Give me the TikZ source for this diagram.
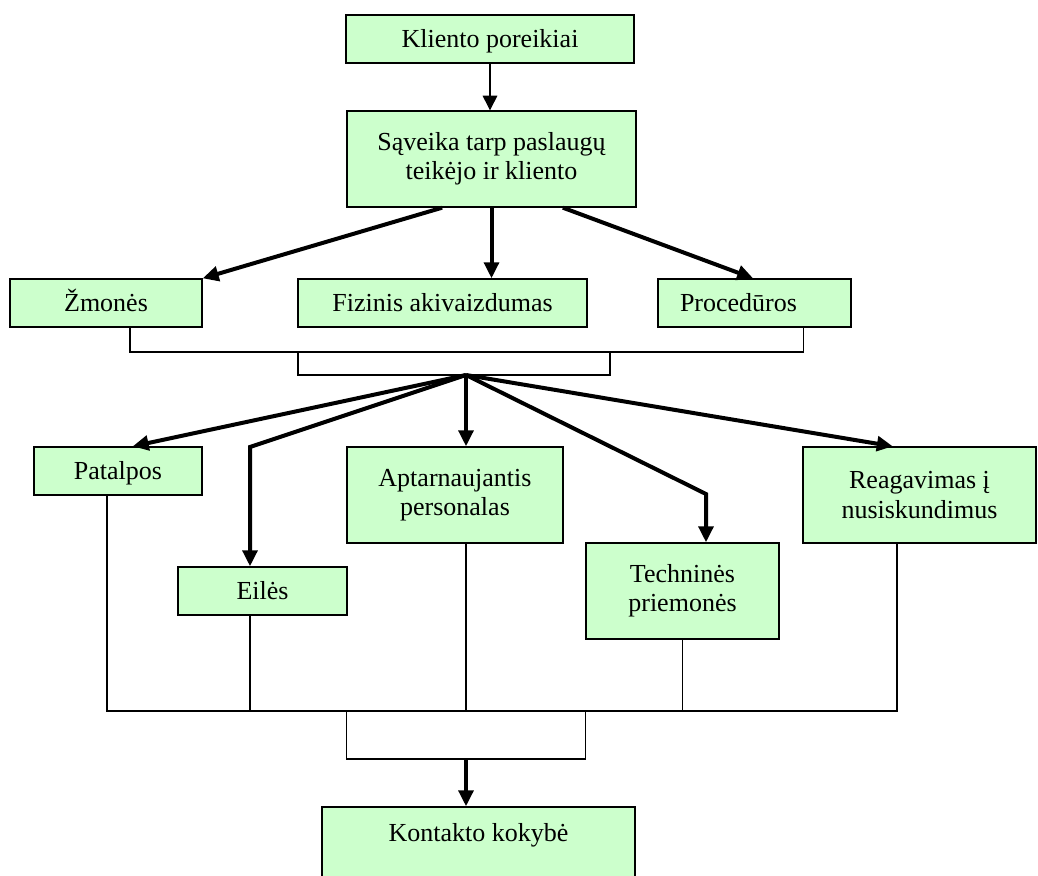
\documentclass[tikz,border=0pt]{standalone}
\usepackage{fontspec}
\setmainfont{Liberation Serif}
\usetikzlibrary{arrows.meta}
\definecolor{boxgreen}{HTML}{CCFFCC}

\begin{document}
\begin{tikzpicture}[x=0.75pt,y=-0.75pt,
        font=\fontsize{19.5pt}{22pt}\selectfont,
        box/.style={draw,line width=1pt,fill=boxgreen,inner sep=0pt,align=center},
        onebox/.style={box,minimum height=36pt,text height=13pt,text depth=1pt},
        link/.style={line width=0.8pt},
        arr/.style={line width=3pt,-{Triangle[length=12pt,width=11pt]}},
        thinarr/.style={line width=0.8pt,-{Triangle[length=11pt,width=11pt]}}]
        \useasboundingbox (0,0) rectangle (1038,875);
        \clip (0,0) rectangle (1038,875);
        \node[onebox,minimum width=216pt] (kli) at (490,39) {Kliento poreikiai};
        \node[box,minimum width=216.75pt,minimum height=72pt] (sav) at (491.5,159) {Sąveika tarp paslaugų\\teikėjo ir kliento};
        \node[onebox,minimum width=144pt] (zmo) at (106,303) {Žmonės};
        \node[onebox,minimum width=216.75pt] (fiz) at (442.5,303) {Fizinis akivaizdumas};
        \node[onebox,minimum width=144.75pt] (pro) at (754.5,303) {Procedūros\hspace{24pt}};
        \node[onebox,minimum width=126pt] (pat) at (118,471) {Patalpos};
        \node[onebox,minimum width=126.75pt] (eil) at (262.5,591) {Eilės};
        \node[box,minimum width=162pt,minimum height=72pt] (apt) at (455,495) {Aptarnaujantis\\personalas};
        \node[box,minimum width=144.75pt,minimum height=72pt] (tec) at (682.5,591) {Techninės\\priemonės};
        \node[box,minimum width=174.75pt,minimum height=72pt] (rea) at (919.5,495) {Reagavimas į\\nusiskundimus};
        \node[box,minimum width=234.75pt,minimum height=72pt,text height=13.5pt,text depth=34.5pt] (kon) at (478.5,855) {Kontakto kokybė};
        \draw[thinarr] (kli.south) -- (kli.south |- sav.north);
        \draw[arr] ([xshift=-37pt]sav.south) -- (zmo.north east);
        \draw[arr] (sav.south) -- (sav.south |- fiz.north);
        \draw[arr] ([xshift=53.5pt]sav.south) -- ([xshift=-1pt]pro.north);
        \coordinate (upl) at (298,352);
        \coordinate (upr) at (610,352);
        \coordinate (hub) at (466,375);
        \draw[link] ([xshift=18pt]zmo.south) |- (upl) -- (upr) -| ([xshift=36.5pt]pro.south);
        \draw[link] (upl) |- (hub) -| (upr);
        \draw[arr] (hub) -- ([xshift=11pt]pat.north);
        \coordinate (kink1) at (250,447);
        \draw[arr] (hub) -- (kink1) -- (kink1 |- eil.north);
        \draw[arr] (hub) -- (hub |- apt.north);
        \coordinate (kink2) at (706,494);
        \draw[arr] (hub) -- (kink2) -- (kink2 |- tec.north);
        \draw[arr] (hub) -- ([xshift=-20pt]rea.north);
        \coordinate (busl) at (107,711);
        \coordinate (busr) at (897,711);
        \coordinate (low) at (466,759);
        \draw[link] (busl |- pat.south) -- (busl) -- (busr) -- (busr |- rea.south);
        \draw[link] (kink1 |- eil.south) -- (kink1 |- busl);
        \draw[link] (hub |- apt.south) -- (hub |- busl);
        \draw[link] (tec.south) -- (tec.south |- busl);
        \draw[link] (apt.south west |- busl) |- (low) -| (tec.south west |- busl);
        \draw[arr] (low) -- (low |- kon.north);
\end{tikzpicture}
\end{document}
